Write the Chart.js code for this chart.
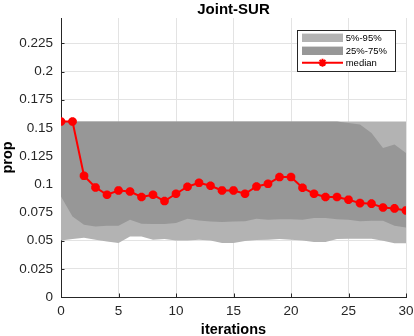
<!DOCTYPE html>
<html>
<head>
<meta charset="utf-8">
<script src="https://cdn.jsdelivr.net/npm/chart.js@4/dist/chart.umd.min.js"></script>
<style>
html,body{margin:0;padding:0;background:#fff;}
#wrap{width:414px;height:336px;position:relative;}
</style>
</head>
<body>
<div id="wrap"><canvas id="c" width="414" height="336"></canvas></div>
<script>
const iterations = [0,1,2,3,4,5,6,7,8,9,10,11,12,13,14,15,16,17,18,19,20,21,22,23,24,25,26,27,28,29,30];
const median = [0.1557,0.1557,0.1075,0.0972,0.0907,0.0945,0.0936,0.0887,0.0907,0.0851,0.0916,0.0978,0.1013,0.0987,0.0945,0.0945,0.0916,0.0980,0.1004,0.1064,0.1064,0.0969,0.0916,0.0887,0.0887,0.0863,0.0833,0.0828,0.0794,0.0786,0.0768];
const p75 = [0.1557,0.1557,0.1557,0.1557,0.1557,0.1557,0.1557,0.1557,0.1557,0.1557,0.1557,0.1557,0.1557,0.1557,0.1557,0.1557,0.1557,0.1557,0.1557,0.1557,0.1557,0.1557,0.1557,0.1557,0.1557,0.1543,0.1531,0.1454,0.1321,0.1353,0.1277];
const p25 = [0.0892,0.0715,0.0641,0.0626,0.0632,0.0632,0.0685,0.0650,0.0647,0.0647,0.0656,0.0694,0.0679,0.0670,0.0665,0.0670,0.0673,0.0694,0.0685,0.0690,0.0690,0.0685,0.0700,0.0700,0.0690,0.0685,0.0673,0.0676,0.0676,0.0632,0.0617];
const p95 = [0.1557,0.1557,0.1557,0.1557,0.1557,0.1557,0.1557,0.1557,0.1557,0.1557,0.1557,0.1557,0.1557,0.1557,0.1557,0.1557,0.1557,0.1557,0.1557,0.1557,0.1557,0.1557,0.1557,0.1557,0.1557,0.1557,0.1557,0.1557,0.1557,0.1557,0.1557];
const p5 = [0.0502,0.0514,0.0526,0.0508,0.0493,0.0479,0.0537,0.0537,0.0508,0.0514,0.0502,0.0502,0.0508,0.0502,0.0479,0.0479,0.0496,0.0505,0.0508,0.0514,0.0508,0.0502,0.0488,0.0488,0.0514,0.0517,0.0517,0.0517,0.0499,0.0476,0.0476];
const xTicks = [0,5,10,15,20,25,30];
const yTicks = [0,0.025,0.05,0.075,0.1,0.125,0.15,0.175,0.2,0.225];
const yTickLabels = ['0','0.025','0.05','0.075','0.1','0.125','0.15','0.175','0.2','0.225'];
const legendLabels = ['5%-95%','25%-75%','median'];
const titleText = 'Joint-SUR';
const xTitle = 'iterations';
const yTitle = 'prop';

const LIGHT = '#b3b3b3', DARK = '#979797', RED = '#ff0000', AXIS = '#262626', GRID = '#e3e3e3';
const FONT = "'Liberation Sans', Arial, Helvetica, sans-serif";
const pts = arr => arr.map((v,i)=>({x: iterations[i], y: v}));

const inwardTicks = {
  id: 'inwardTicks',
  beforeDatasetsDraw(chart){
    const {ctx, chartArea:a, scales:{x, y}} = chart;
    ctx.save();
    ctx.strokeStyle = AXIS; ctx.lineWidth = 1;
    ctx.beginPath();
    xTicks.forEach(v=>{ const px = Math.round(x.getPixelForValue(v))+0.5; ctx.moveTo(px, a.bottom); ctx.lineTo(px, a.bottom-3.5); });
    yTicks.forEach(v=>{ const py = Math.round(y.getPixelForValue(v))+0.5; ctx.moveTo(a.left, py); ctx.lineTo(a.left+3.5, py); });
    ctx.stroke();
    ctx.restore();
  }
};

const plotTitle = {
  id: 'plotTitle',
  afterDraw(chart){
    const {ctx, chartArea:a} = chart;
    ctx.save();
    ctx.fillStyle = '#000'; ctx.font = 'bold 15px ' + FONT;
    ctx.textAlign = 'center'; ctx.textBaseline = 'alphabetic';
    ctx.fillText(titleText, (a.left + a.right)/2, 14);
    ctx.restore();
  }
};

const boxLegend = {
  id: 'boxLegend',
  afterDraw(chart){
    const ctx = chart.ctx;
    ctx.save();
    const bx = 297.5, by = 30.5, bw = 98, bh = 41;
    ctx.fillStyle = '#fff'; ctx.fillRect(bx, by, bw, bh);
    ctx.strokeStyle = AXIS; ctx.lineWidth = 1; ctx.strokeRect(bx, by, bw, bh);
    const sx = 302, sw = 41, rows = [37.8, 50.8, 62.7];
    ctx.fillStyle = LIGHT; ctx.fillRect(sx, rows[0]-4.2, sw, 8.4);
    ctx.fillStyle = DARK; ctx.fillRect(sx, rows[1]-4.2, sw, 8.4);
    ctx.strokeStyle = RED; ctx.lineWidth = 2;
    ctx.beginPath(); ctx.moveTo(sx, rows[2]); ctx.lineTo(sx+sw, rows[2]); ctx.stroke();
    ctx.fillStyle = RED;
    Chart.helpers.drawPoint(ctx, {pointStyle:'star', radius:4, rotation:0, borderWidth:3}, sx+sw/2, rows[2]);
    ctx.beginPath(); ctx.arc(sx+sw/2, rows[2], 2.8, 0, Math.PI*2); ctx.fill();
    ctx.fillStyle = '#000'; ctx.font = '9.5px ' + FONT; ctx.textBaseline = 'middle'; ctx.textAlign = 'left';
    legendLabels.forEach((t,i)=>ctx.fillText(t, 345.7, rows[i]+0.5));
    ctx.restore();
  }
};

const zeroPad = s => { s.paddingTop = 0; s.paddingBottom = 0; s.paddingLeft = 0; s.paddingRight = 0; };

new Chart(document.getElementById('c'), {
  type: 'line',
  data: {
    datasets: [
      {label: legendLabels[2], data: pts(median), borderColor: RED, backgroundColor: RED, borderWidth: 2, pointStyle: 'star', pointRadius: 4.3, pointBorderWidth: 3, pointBackgroundColor: RED, pointBorderColor: RED, fill: false, order: 0, tension: 0},
      {label: '5%', data: pts(p5), borderWidth: 0, pointRadius: 0, fill: false, order: 3, borderColor: 'rgba(0,0,0,0)'},
      {label: legendLabels[0], data: pts(p95), borderWidth: 0, pointRadius: 0, fill: {target: 1}, backgroundColor: LIGHT, order: 3, borderColor: 'rgba(0,0,0,0)'},
      {label: '25%', data: pts(p25), borderWidth: 0, pointRadius: 0, fill: false, order: 2, borderColor: 'rgba(0,0,0,0)'},
      {label: legendLabels[1], data: pts(p75), borderWidth: 0, pointRadius: 0, fill: {target: 3}, backgroundColor: DARK, order: 2, borderColor: 'rgba(0,0,0,0)'}
    ]
  },
  options: {
    responsive: false,
    animation: false,
    devicePixelRatio: 1,
    layout: {padding: {left: 0, right: 8, top: 18, bottom: 0}},
    plugins: {
      legend: {display: false},
      tooltip: {enabled: false},
      title: {display: false}
    },
    scales: {
      x: {
        type: 'linear', min: 0, max: 30,
        afterBuildTicks: s => { s.ticks = xTicks.map(v=>({value: v})); },
        afterFit: s => { s.height = 39; zeroPad(s); },
        ticks: {color: AXIS, font: {family: FONT, size: 13.5}, padding: 6, maxRotation: 0, callback: v => String(v)},
        grid: {color: GRID, drawTicks: false},
        border: {color: AXIS, width: 1},
        title: {display: true, text: xTitle, color: '#000', font: {family: FONT, size: 14.5, weight: 'bold', lineHeight: 0.87}, padding: {top: 0, bottom: 0}}
      },
      y: {
        type: 'linear', min: 0, max: 0.2475,
        afterBuildTicks: s => { s.ticks = yTicks.map(v=>({value: v})); },
        afterFit: s => { s.width = 61; zeroPad(s); },
        ticks: {color: AXIS, font: {family: FONT, size: 13.5}, padding: 8, callback: (v) => { const i = yTicks.indexOf(v); return i >= 0 ? yTickLabels[i] : ''; }},
        grid: {color: GRID, drawTicks: false},
        border: {color: AXIS, width: 1},
        title: {display: true, text: yTitle, color: '#000', font: {family: FONT, size: 14.5, weight: 'bold', lineHeight: 1.05}, padding: {top: 0, bottom: 0}}
      }
    }
  },
  plugins: [inwardTicks, plotTitle, boxLegend]
});
</script>
</body>
</html>
